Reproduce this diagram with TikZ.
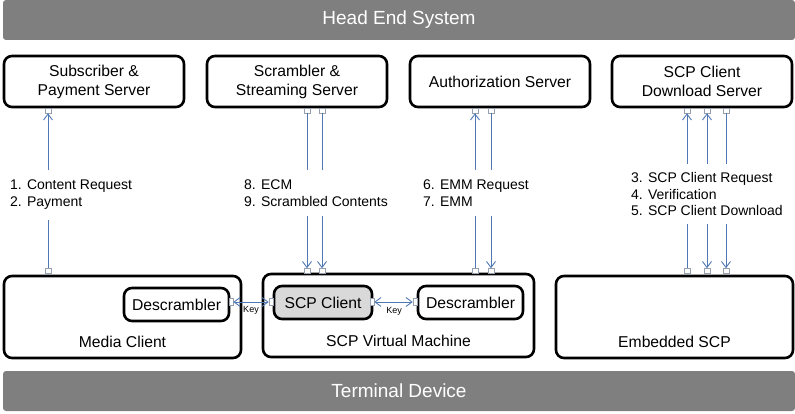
\documentclass[tikz,border=0pt]{standalone}
\usepackage{fontspec}
\setmainfont{Liberation Sans}
\usetikzlibrary{arrows.meta}
\definecolor{barGray}{RGB}{127,127,127}
\definecolor{linkBlue}{RGB}{79,120,180}
\definecolor{portGray}{RGB}{150,160,175}
\definecolor{clientGray}{RGB}{217,217,217}
\tikzset{
	bar/.style = {
		rectangle,
		rounded corners=3pt,
		fill=barGray,
		text=white,
		font=\fontsize{19}{22}\selectfont,
		minimum width=792pt,
		minimum height=40pt
	},
	server/.style = {
		rectangle,
		rounded corners=8pt,
		draw=black,
		line width=2.6pt,
		align=center,
		font=\fontsize{15.7}{19}\selectfont,
		inner sep=0pt,
		minimum width=180pt,
		minimum height=51pt
	},
	terminal/.style = {
		server,
		minimum width=237pt,
		minimum height=82pt
	},
	module/.style = {
		server,
		minimum width=105pt,
		minimum height=33pt
	},
	module_client/.style = {
		module,
		fill=clientGray,
		minimum width=98pt
	},
	port/.style = {
		rectangle,
		draw=portGray,
		fill=white,
		line width=0.6pt,
		inner sep=0pt,
		minimum width=6pt,
		minimum height=5pt
	},
	port_side/.style = {
		port,
		minimum width=4pt,
		minimum height=7pt
	},
	link/.style = {
		draw=linkBlue,
		line width=0.9pt
	},
	msg/.style = {
		fill=white,
		align=left,
		anchor=west,
		inner xsep=1pt,
		font=\fontsize{14}{17}\selectfont,
		minimum height=46pt
	},
	boxtext/.style = {
		anchor=base,
		font=\fontsize{15.7}{19}\selectfont
	},
	keytext/.style = {
		inner sep=0pt,
		font=\fontsize{9}{10}\selectfont
	},
}

\begin{document}
\begin{tikzpicture}[x=1pt, y=-1pt, >={Straight Barb[length=6pt,width=9pt]}]
\useasboundingbox (0,0) rectangle (795,414);
% bars
\node [bar] (head) at (399,20) {Head End System};
\node [bar] (term) at (399,391) {Terminal Device};
% head end servers
\node [server] (sub) at (94,81.5) {Subscriber \&\\Payment Server};
\node [server] (scr) at (297,81.5) {Scrambler \&\\Streaming Server};
\node [server] (auth) at (500,81.5) {Authorization Server};
\node [server] (dl) at (702,81.5) {SCP Client\\Download Server};
% terminal side
\node [terminal] (media) at (122.5,317) {};
\node [terminal, minimum width=271pt, minimum height=83pt] (vm) at (398.5,315.5) {};
\node [terminal] (emb) at (674.5,317) {};
\node [boxtext] (mediatxt) at (122.5,347) {Media Client};
\node [boxtext] (vmtxt) at (398.5,346) {SCP Virtual Machine};
\node [boxtext] (embtxt) at (674.5,347) {Embedded SCP};
\node [module] (desc1) at (176.5,304.5) {Descrambler};
\node [module_client] (client) at (323,302.5) {SCP Client};
\node [module] (desc2) at (470.5,302.5) {Descrambler};
% ports
\node [port] (sub_p) at (48,110.5) {};
\node [port] (scr_p1) at (307,110.5) {};
\node [port] (scr_p2) at (322,110.5) {};
\node [port] (auth_p1) at (475,110.5) {};
\node [port] (auth_p2) at (491,110.5) {};
\node [port] (dl_p1) at (687,110.5) {};
\node [port] (dl_p2) at (707,110.5) {};
\node [port] (dl_p3) at (726,110.5) {};
\node [port] (media_p) at (48,271) {};
\node [port] (vm_p1) at (307,271) {};
\node [port] (vm_p2) at (322,271) {};
\node [port] (vm_p3) at (475,271) {};
\node [port] (vm_p4) at (491,271) {};
\node [port] (emb_p1) at (687,271) {};
\node [port] (emb_p2) at (707,271) {};
\node [port] (emb_p3) at (726,271) {};
\node [port_side] (desc1_p) at (231,302) {};
\node [port_side] (client_p1) at (271,302) {};
\node [port_side] (client_p2) at (372,302) {};
\node [port_side] (desc2_p) at (415,302) {};
% messages
\draw [link, ->] (media_p) -- (sub_p);
\draw [link, ->] (scr_p1) -- (vm_p1);
\draw [link, ->] (scr_p2) -- (vm_p2);
\draw [link, ->] (vm_p3) -- (auth_p1);
\draw [link, ->] (auth_p2) -- (vm_p4);
\draw [link, ->] (emb_p1) -- (dl_p1);
\draw [link, <->] (dl_p2) -- (emb_p2);
\draw [link, ->] (dl_p3) -- (emb_p3);
\draw [link, <->] (desc1_p) -- (client_p1);
\draw [link, <->] (client_p2) -- (desc2_p);
\node [msg, minimum height=50pt] (msg_pay) at (9,195) {1. Content Request\\2. Payment};
\node [msg] (msg_ecm) at (243,193) {8. ECM\\9. Scrambled Contents};
\node [msg] (msg_emm) at (422,193) {6. EMM Request\\7. EMM};
\node [msg, minimum height=60pt, font=\fontsize{14}{16.5}\selectfont] (msg_scp) at (630,194) {3. SCP Client Request\\4. Verification\\5. SCP Client Download};
\node [keytext] (key1) at (251,310) {Key};
\node [keytext] (key2) at (394,311) {Key};
\end{tikzpicture}
\end{document}
